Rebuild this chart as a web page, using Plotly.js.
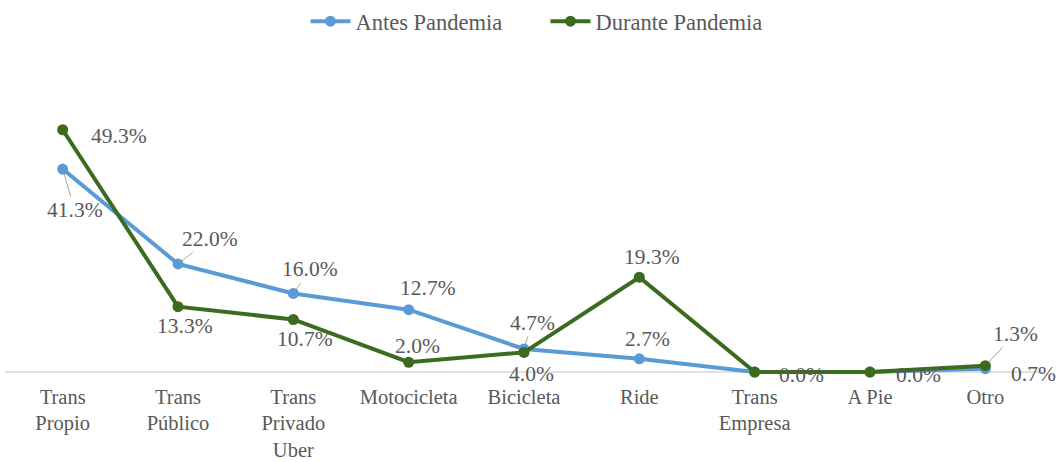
<!DOCTYPE html>
<html>
<head>
<meta charset="utf-8">
<script src="https://cdn.plot.ly/plotly-3.0.1.min.js"></script>
<style>html,body{margin:0;padding:0;background:#fff;}#chart{width:1060px;height:462px;}</style>
</head>
<body>
<div id="chart"></div>
<script>
const categories = ["Trans<br>Propio","Trans<br>Público","Trans<br>Privado<br>Uber","Motocicleta","Bicicleta","Ride","Trans<br>Empresa","A Pie","Otro"];
const antes = [41.3, 22.0, 16.0, 12.7, 4.7, 2.7, 0.0, 0.0, 0.7];
const durante = [49.3, 13.3, 10.7, 2.0, 4.0, 19.3, 0.0, 0.0, 1.3];
const seriesNames = ["Antes Pandemia", "Durante Pandemia"];

// label placement: [dx, dy, leader]
const antesLbl = [[12,41,true],[32,-25,true],[17,-24,true],[19,-22,false],[8,-26,true],[8,-20,false],null,null,[48,5,false]];
const duranteLbl = [[56,6,false],[7,19,false],[12,20,false],[9,-16,false],[7,22,false],[13,-20,false],[47,3,false],[48,3,false],[30,-32,true]];

const textColor = "#595959";
const fontFam = "Liberation Serif";
const blue = "#5b9bd5", green = "#3b6b1f";

const traces = [
  {x: categories, y: antes, name: seriesNames[0], type: "scatter", mode: "lines+markers",
   line: {color: blue, width: 4}, marker: {color: blue, size: 11}, cliponaxis: false},
  {x: categories, y: durante, name: seriesNames[1], type: "scatter", mode: "lines+markers",
   line: {color: green, width: 4}, marker: {color: green, size: 11}, cliponaxis: false}
];

const annotations = [];
function addLabels(vals, lbls) {
  vals.forEach((v, i) => {
    const l = lbls[i];
    if (!l) return;
    const a = {x: categories[i], y: v, xref: "x", yref: "y", text: v.toFixed(1) + "%",
      font: {family: fontFam, size: 21.5, color: textColor}};
    if (l[2]) {
      Object.assign(a, {showarrow: true, arrowhead: 0, arrowwidth: 1, arrowcolor: "#a6a6a6",
        ax: l[0], ay: l[1], axref: "pixel", ayref: "pixel", standoff: 5});
    } else {
      Object.assign(a, {showarrow: false, xshift: l[0], yshift: -l[1]});
    }
    annotations.push(a);
  });
}
addLabels(antes, antesLbl);
addLabels(durante, duranteLbl);

const layout = {
  width: 1060, height: 462,
  margin: {l: 5, r: 17, t: 87, b: 85},
  paper_bgcolor: "#ffffff", plot_bgcolor: "#ffffff",
  font: {family: fontFam, color: textColor, size: 21.5},
  showlegend: true,
  legend: {orientation: "h", x: 0.5146, xref: "container", xanchor: "center", y: 1, yref: "container", yanchor: "top",
    font: {family: fontFam, size: 22.5, color: textColor}, itemwidth: 40, entrywidth: 185},
  xaxis: {type: "category", range: [-0.5, 8.5], showgrid: false, zeroline: false, showline: false,
    ticks: "", ticklabelstandoff: 5, tickfont: {family: fontFam, size: 20.5, color: textColor}, fixedrange: true},
  yaxis: {range: [-1, 58], showgrid: false, zeroline: false, showline: false, showticklabels: false, fixedrange: true},
  shapes: [{type: "line", xref: "paper", x0: 0, x1: 1, yref: "y", y0: 0, y1: 0,
    line: {color: "#d9d9d9", width: 1.5}, layer: "below"}],
  annotations: annotations,
  hovermode: false
};

Plotly.newPlot("chart", traces, layout, {displayModeBar: false, staticPlot: true});
</script>
</body>
</html>
